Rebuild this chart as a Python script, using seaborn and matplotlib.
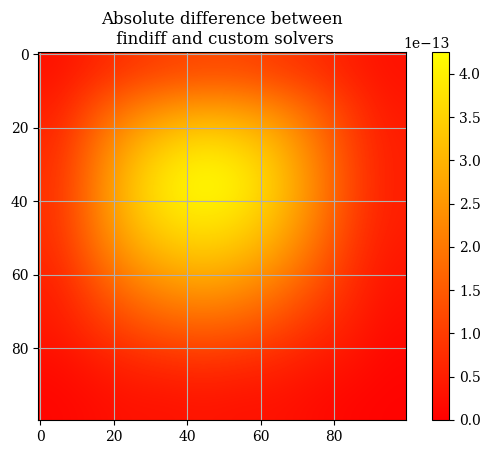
import numpy as np
import matplotlib
matplotlib.use("Agg")
import matplotlib.pyplot as plt
import seaborn as sns

sns.reset_orig()
plt.rcParams['font.family'] = ['DejaVu Serif']

# coarse grid of absolute differences (units of 1e-13), rows = y centres 5..95, cols = x centres 5..95
r0 = [0.3, 0.6, 0.9, 1.1, 1.2, 1.2, 1.0, 0.8, 0.5, 0.3]
r1 = [0.5, 1.3, 2.0, 2.4, 2.6, 2.5, 2.2, 1.6, 0.9, 0.4]
r2 = [0.7, 1.8, 2.8, 3.4, 3.7, 3.5, 3.0, 2.1, 1.1, 0.5]
r3 = [0.8, 2.0, 3.2, 3.9, 4.2, 4.0, 3.3, 2.3, 1.2, 0.5]
r4 = [0.8, 2.0, 3.1, 3.7, 3.9, 3.7, 3.1, 2.2, 1.1, 0.5]
r5 = [0.7, 1.7, 2.6, 3.1, 3.3, 3.1, 2.6, 1.8, 0.9, 0.4]
r6 = [0.5, 1.2, 1.9, 2.3, 2.5, 2.3, 1.9, 1.3, 0.7, 0.3]
r7 = [0.4, 0.8, 1.2, 1.5, 1.6, 1.5, 1.2, 0.8, 0.5, 0.2]
r8 = [0.2, 0.4, 0.6, 0.7, 0.8, 0.7, 0.6, 0.4, 0.3, 0.1]
r9 = [0.1, 0.2, 0.3, 0.3, 0.35, 0.3, 0.3, 0.2, 0.1, 0.05]
grid = np.array([r0, r1, r2, r3, r4, r5, r6, r7, r8, r9]) * 1e-13

fig, ax = plt.subplots(figsize=(4.91, 4.54), dpi=100)
im = ax.imshow(grid, cmap='autumn', vmin=0, vmax=4.25e-13,
               extent=(-0.5, 99.5, 99.5, -0.5), interpolation='bicubic')
ax.set_xticks([0, 20, 40, 60, 80])
ax.set_yticks([0, 20, 40, 60, 80])
ax.grid(True, color='#b0b0b0', linewidth=0.8)
ax.set_title("Absolute difference between\n findiff and custom solvers")
cax = fig.add_axes([0.88, 0.075, 0.035, 0.81])
fig.colorbar(im, cax=cax)
ax.set_position([0.075, 0.075, 0.755, 0.81])
fig.savefig("out.png")
